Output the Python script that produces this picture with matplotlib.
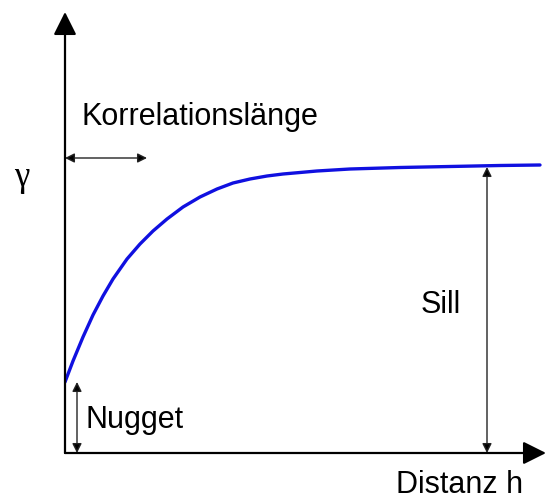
import numpy as np
import matplotlib.pyplot as plt

plt.rcParams['font.family'] = ['Liberation Sans', 'DejaVu Sans']

# variogram curve (distance h, gamma)
h = [0, 8, 18, 28, 38, 48, 62, 75, 88, 102, 118, 135, 152, 168, 185, 202, 218, 252, 285, 335, 385, 435, 475]
gamma = [71, 92, 116, 138, 157, 174, 194, 209, 222, 234, 246, 256, 264, 270, 274, 277, 279, 282, 284, 285.5, 286.5, 287.5, 288]

nugget = gamma[0]
sill = gamma[-1]
sill_x = 422
corr_len = 82
x_max, y_max = 481, 441

fig = plt.figure(figsize=(5.46, 5.00), dpi=100)
ax = fig.add_axes([65 / 546, 47 / 500, 481 / 546, 441 / 500])
ax.set_xlim(0, x_max)
ax.set_ylim(0, y_max)
ax.axis('off')

axis_col = '#555555'
# coordinate axes with arrow heads
head = dict(arrowstyle='-|>,head_length=0.7,head_width=0.35', color=axis_col, lw=1.6,
            mutation_scale=20, shrinkA=0, shrinkB=0, fc='black', ec='black')
ax.annotate('', xy=(x_max, 0), xytext=(0, 0), arrowprops=head)
ax.annotate('', xy=(0, y_max), xytext=(0, 0), arrowprops=head)

ax.plot(h, gamma, color='#1010e0', lw=2.4, solid_capstyle='round', solid_joinstyle='round')

dbl = dict(arrowstyle='<|-|>', color='#222222', lw=1.0, mutation_scale=14,
           shrinkA=0, shrinkB=0, fc='black')
ax.annotate('', xy=(12, 0), xytext=(12, nugget), arrowprops=dbl)
ax.annotate('', xy=(sill_x, 0), xytext=(sill_x, sill - 2), arrowprops=dbl)
ax.annotate('', xy=(0, 295), xytext=(corr_len, 295), arrowprops=dbl)

fs = 22
ax.text(17, 336, 'Korrelationslänge', fontsize=fs, va='center', ha='left')
ax.text(20, 33, 'Nugget', fontsize=fs, va='center', ha='left')
ax.text(376, 148, 'Sill', fontsize=fs, va='center', ha='center')
ax.text(395, -32, 'Distanz h', fontsize=fs, va='center', ha='center', clip_on=False)
ax.text(-43, 276, 'γ', fontsize=25, family=['Liberation Serif', 'DejaVu Serif'],
        va='center', ha='center', clip_on=False)

fig.savefig('out.png', dpi=100)
